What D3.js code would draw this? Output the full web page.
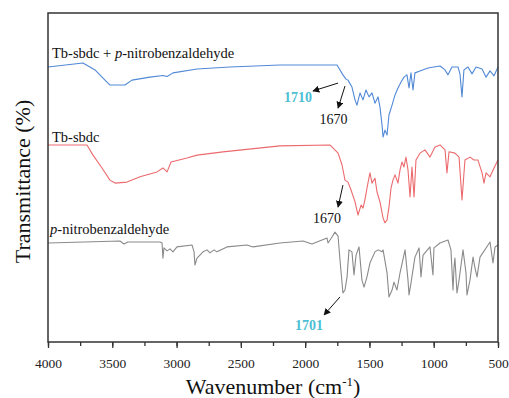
<!DOCTYPE html>
<html>
<head>
<meta charset="utf-8">
<script src="https://cdn.jsdelivr.net/npm/d3@7"></script>
<style>
  body { margin: 0; background: #fff; }
  svg { display: block; }
  svg text { font-family: 'Liberation Serif', 'Times New Roman', serif; }
</style>
</head>
<body>
<svg id="chart" width="509" height="398"></svg>
<script>
// wavenumber (cm-1) / transmittance (arbitrary, offset)
var blueSpec = [[4000,83.6],[3728,84.8],[3634,82.7],[3572,80.2],[3518,78.1],[3401,78.1],[3347,79.6],[3207,80.5],[3106,81.0],[3074,80.7],[3028,81.8],[2841,83.0],[2584,83.6],[2196,84.2],[1752,84.2],[1706,81.2],[1682,79.9],[1667,79.6],[1636,77.5],[1612,73.6],[1597,72.0],[1573,75.7],[1550,73.6],[1527,76.6],[1503,74.5],[1480,75.7],[1457,72.6],[1433,74.5],[1418,71.4],[1402,66.0],[1394,62.3],[1379,64.4],[1363,62.9],[1348,69.0],[1324,72.0],[1301,75.1],[1278,77.2],[1254,79.0],[1231,80.5],[1208,81.2],[1192,77.2],[1177,81.8],[1161,76.6],[1146,81.8],[1107,82.4],[1044,83.3],[951,83.9],[912,82.7],[889,81.2],[858,83.6],[811,83.6],[796,81.5],[780,74.5],[765,82.7],[733,83.6],[702,81.5],[671,83.6],[624,83.0],[593,80.5],[562,82.4],[531,80.9],[500,83.6]];

var redSpec = [[4000,59.9],[3697,59.9],[3650,56.8],[3580,52.9],[3518,49.2],[3479,48.3],[3386,48.6],[3284,50.2],[3152,51.7],[3106,52.9],[3074,51.7],[3043,54.7],[2919,55.9],[2841,56.8],[2639,57.8],[2196,59.6],[1807,59.9],[1744,57.4],[1713,53.8],[1690,49.2],[1667,48.6],[1643,46.2],[1612,42.6],[1589,38.6],[1565,41.6],[1550,40.7],[1535,43.2],[1519,46.8],[1496,51.4],[1480,48.3],[1457,49.8],[1441,45.6],[1418,42.6],[1394,37.7],[1379,36.2],[1363,37.1],[1348,41.0],[1332,46.8],[1317,49.2],[1301,50.8],[1278,48.3],[1262,52.3],[1247,54.7],[1231,53.2],[1216,56.2],[1200,52.3],[1184,44.1],[1169,53.2],[1153,44.1],[1138,55.3],[1107,57.4],[1068,58.4],[1029,56.2],[990,59.3],[951,59.9],[912,58.4],[897,51.4],[881,57.8],[835,57.4],[803,56.2],[780,43.2],[757,55.3],[718,56.2],[687,55.3],[656,55.3],[624,51.4],[609,48.3],[593,51.4],[562,50.2],[531,52.9],[500,55.3]];

var graySpec = [[4000,30.1],[3440,30.7],[3409,29.8],[3378,30.4],[3129,30.4],[3113,30.1],[3106,25.5],[3098,28.6],[3074,27.7],[3051,28.3],[3028,27.4],[2997,28.9],[2880,29.5],[2864,27.4],[2857,23.4],[2841,25.5],[2794,27.4],[2763,28.0],[2740,27.1],[2709,28.0],[2686,27.4],[2608,28.9],[2452,29.5],[2406,28.9],[2196,30.1],[2017,30.7],[1947,29.8],[1830,31.6],[1822,30.1],[1791,31.9],[1768,33.4],[1744,32.2],[1729,24.9],[1706,14.9],[1690,15.8],[1674,19.8],[1659,28.0],[1636,27.4],[1620,20.4],[1604,26.4],[1581,28.9],[1558,18.8],[1542,16.7],[1519,19.8],[1496,24.0],[1457,27.4],[1433,28.0],[1402,27.4],[1394,28.0],[1363,21.0],[1348,13.7],[1324,15.8],[1309,18.2],[1286,15.8],[1262,21.0],[1223,28.0],[1200,18.8],[1192,14.3],[1177,17.9],[1146,25.8],[1114,28.6],[1099,19.8],[1083,26.4],[1029,28.9],[1006,20.4],[998,28.6],[951,30.1],[889,31.0],[866,28.0],[850,15.8],[842,22.8],[835,25.5],[819,14.9],[803,18.8],[772,28.0],[749,21.0],[741,14.3],[718,18.8],[694,25.8],[679,22.5],[663,19.8],[640,25.8],[562,30.4],[539,24.0],[523,28.9],[500,29.5]];

var xTickLabels = [4000, 3500, 3000, 2500, 2000, 1500, 1000, 500];

// series label text + where it sits (data units)
var seriesLabels = [
  {pre: "Tb-sbdc + ", it: "p", post: "-nitrobenzaldehyde", w: 3969, v: 86.3},
  {pre: "Tb-sbdc", it: "", post: "", w: 3969, v: 60.8},
  {pre: "", it: "p", post: "-nitrobenzaldehyde", w: 3984, v: 32.8}
];

// peak annotations: text pos, arrow from -> to
var peakNotes = [
  {text: "1710", cyan: true, tw: 1947, tv: 72.9, anchor: "end", w0: 1744, v0: 78.7, w1: 1939, v1: 76.3},
  {text: "1670", cyan: false, tw: 1779, tv: 66.3, anchor: "middle", w0: 1690, v0: 77.8, w1: 1744, v1: 71.1},
  {text: "1670", cyan: false, tw: 1830, tv: 36.2, anchor: "middle", w0: 1706, v0: 47.7, w1: 1744, v1: 41.0},
  {text: "1701", cyan: true, tw: 1970, tv: 3.6, anchor: "middle", w0: 1729, v0: 13.7, w1: 1853, v1: 8.2}
];

var FONT = "'Liberation Serif', 'Times New Roman', serif";

var svg = d3.select("#chart");
var margin = {top: 13, right: 11, bottom: 56, left: 48};
var width = +svg.attr("width") - margin.left - margin.right;
var height = +svg.attr("height") - margin.top - margin.bottom;
var g = svg.append("g").attr("transform", "translate(" + margin.left + "," + margin.top + ")");

var x = d3.scaleLinear().domain([4000, 500]).range([0, width]);
var y = d3.scaleLinear().domain([0, 100]).range([height, 0]);

var line = d3.line()
  .x(function(d) { return x(d[0]); })
  .y(function(d) { return y(d[1]); });

var curves = [
  {data: blueSpec, color: "#5189d6"},
  {data: redSpec, color: "#ec6a6e"},
  {data: graySpec, color: "#8a8a8a"}
];
g.selectAll(".spec")
  .data(curves)
  .enter().append("path")
  .attr("class", "spec")
  .attr("d", function(d) { return line(d.data); })
  .attr("fill", "none")
  .attr("stroke", function(d) { return d.color; })
  .attr("stroke-width", 1.1)
  .attr("stroke-linejoin", "round");

// frame
g.append("rect")
  .attr("width", width)
  .attr("height", height)
  .attr("fill", "none")
  .attr("stroke", "#333")
  .attr("stroke-width", 1.5);

// x axis: minor ticks then major with labels
g.append("g")
  .attr("transform", "translate(0," + height + ")")
  .call(d3.axisBottom(x).tickValues(d3.range(4000, 499, -250)).tickSize(4).tickFormat(""))
  .call(function(a) { a.select(".domain").remove(); a.selectAll("line").attr("stroke", "#333").attr("stroke-width", 1.3); });

var xAxis = g.append("g")
  .attr("transform", "translate(0," + height + ")")
  .call(d3.axisBottom(x).tickValues(xTickLabels).tickSize(6).tickPadding(10).tickFormat(d3.format("d")));
xAxis.attr("font-family", FONT).attr("font-size", 13.5);
xAxis.select(".domain").remove();
xAxis.selectAll("line").attr("stroke", "#333").attr("stroke-width", 1.3);
xAxis.selectAll("text")
  .style("font-family", FONT)
  .attr("fill", "#222");

// axis titles
var xt = svg.append("text")
  .attr("x", margin.left + width / 2)
  .attr("y", 394)
  .attr("text-anchor", "middle")
  .style("font-family", FONT)
  .attr("font-size", 22)
  .attr("fill", "#111");
xt.append("tspan").text("Wavenumber (cm");
xt.append("tspan").attr("font-size", 13).attr("dy", -8).text("-1");
xt.append("tspan").attr("dy", 8).text(")");

svg.append("text")
  .attr("transform", "translate(30," + (margin.top + height / 2 + 4) + ") rotate(-90)")
  .attr("text-anchor", "middle")
  .style("font-family", FONT)
  .attr("font-size", 22)
  .attr("fill", "#111")
  .text("Transmittance (%)");

// series labels
seriesLabels.forEach(function(s) {
  var t = g.append("text")
    .attr("x", x(s.w))
    .attr("y", y(s.v))
    .style("font-family", FONT)
    .attr("font-size", 14.5)
    .attr("fill", "#111");
  if (s.pre) t.append("tspan").text(s.pre);
  if (s.it) t.append("tspan").attr("font-style", "italic").text(s.it);
  if (s.post) t.append("tspan").text(s.post);
});

// arrow head
svg.append("defs").append("marker")
  .attr("id", "ah")
  .attr("viewBox", "0 0 10 10")
  .attr("refX", 9).attr("refY", 5)
  .attr("markerWidth", 7).attr("markerHeight", 7)
  .attr("markerUnits", "userSpaceOnUse")
  .attr("orient", "auto")
  .append("path")
  .attr("d", "M0,0 L10,5 L0,10 Z")
  .attr("fill", "#111");

peakNotes.forEach(function(p) {
  g.append("line")
    .attr("x1", x(p.w0)).attr("y1", y(p.v0))
    .attr("x2", x(p.w1)).attr("y2", y(p.v1))
    .attr("stroke", "#111")
    .attr("stroke-width", 1)
    .attr("marker-end", "url(#ah)");
  g.append("text")
    .attr("x", x(p.tw))
    .attr("y", y(p.tv))
    .attr("text-anchor", p.anchor)
    .style("font-family", FONT)
    .attr("font-size", 14)
    .attr("font-weight", p.cyan ? "bold" : "normal")
    .attr("fill", p.cyan ? "#4dbfd4" : "#111")
    .text(p.text);
});
</script>
</body>
</html>
